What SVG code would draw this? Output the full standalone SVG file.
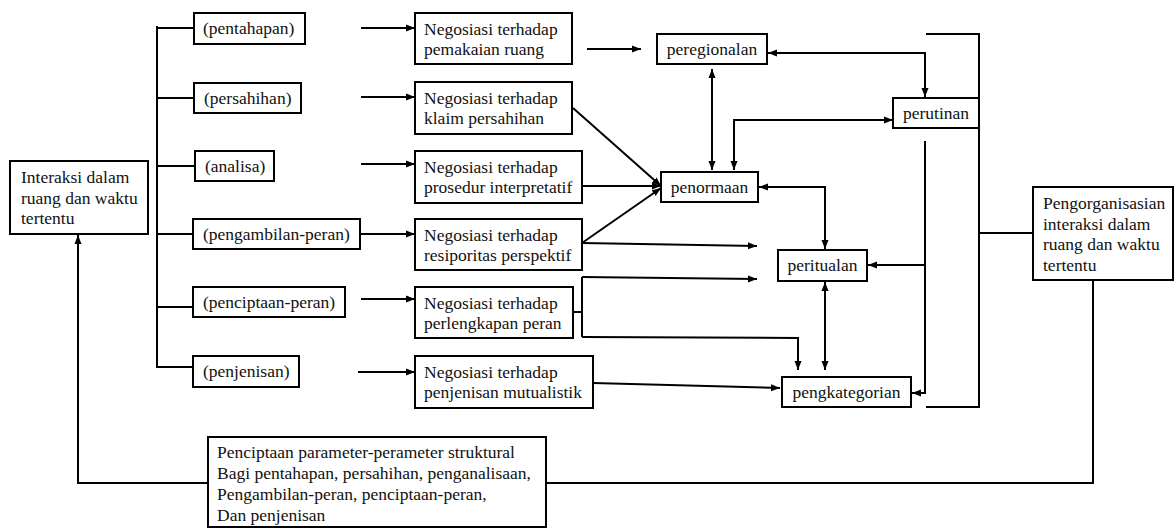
<svg xmlns="http://www.w3.org/2000/svg" width="1175" height="529" viewBox="0 0 1175 529">
  <style>
    .box { fill: #fff; stroke: #000; stroke-width: 2; }
    .lbl { font-family: "Liberation Serif", "Times New Roman", serif; font-size: 17.5px; fill: #111; }
    .mid { text-anchor: middle; }
    .wire { fill: none; stroke: #000; stroke-width: 2; }
    .arr { marker-end: url(#head); }
    .arr2 { marker-start: url(#tail); marker-end: url(#head); }
  </style>
  <defs>
    <marker id="head" markerUnits="userSpaceOnUse" markerWidth="10" markerHeight="8" refX="9" refY="4" orient="auto">
      <path d="M0,0.5 L9,4 L0,7.5 z" fill="#000"/>
    </marker>
    <marker id="tail" markerUnits="userSpaceOnUse" markerWidth="10" markerHeight="8" refX="0" refY="4" orient="auto">
      <path d="M9,0.5 L0,4 L9,7.5 z" fill="#000"/>
    </marker>
  </defs>
  <rect width="1175" height="529" fill="#fff"/>

  <g id="connectors">
    <!-- spine with branches to the six phases -->
    <path class="wire" d="M157,26 V368 M157,28 H194 M157,98 H194 M157,166 H195 M157,234 H193 M157,307 H193 M157,367 H193"/>
    <!-- phases to negotiation boxes -->
    <path class="wire arr" d="M361,28 H415"/>
    <path class="wire arr" d="M361,97 H415"/>
    <path class="wire arr" d="M361,164 H415"/>
    <path class="wire arr" d="M360,234 H415"/>
    <path class="wire arr" d="M361,299 H415"/>
    <path class="wire arr" d="M358,372 H415"/>
    <!-- negotiations to outcomes -->
    <path class="wire arr" d="M587,49 H641"/>
    <path class="wire arr" d="M573,108 L661,186"/>
    <path class="wire arr" d="M582,186 H661"/>
    <path class="wire arr" d="M582,243 L661,188"/>
    <path class="wire arr" d="M582,243 L757,246"/>
    <path class="wire" d="M573,312 H582 M582,277 V337"/>
    <path class="wire arr" d="M582,277 L757,279"/>
    <path class="wire arr" d="M582,337 L798,338 V370"/>
    <path class="wire arr" d="M593,383 L780,388"/>
    <!-- links among outcomes -->
    <path class="wire arr2" d="M712,69 V170"/>
    <path class="wire arr2" d="M893,120 H734 V170"/>
    <path class="wire arr2" d="M768,53 H925 V97"/>
    <path class="wire arr2" d="M759,187 H825 V249"/>
    <path class="wire arr2" d="M825,282 V370"/>
    <path class="wire arr" d="M925,141 V393 H912"/>
    <path class="wire arr" d="M925,265 H868"/>
    <!-- outer bracket to the organising box -->
    <path class="wire" d="M926,34 H979 V407 H926 M979,233 H1033"/>
    <!-- feedback loop through the structural parameters -->
    <path class="wire" d="M1093,280 V483 H546"/>
    <path class="wire arr" d="M208,483 H78 V235"/>
  </g>

  <g id="interaksi">
    <rect class="box" x="10" y="161" width="138" height="73"/>
    <text class="lbl" x="21" y="183">Interaksi dalam</text>
    <text class="lbl" x="21" y="204">ruang dan waktu</text>
    <text class="lbl" x="21" y="224">tertentu</text>
  </g>

  <g id="pentahapan">
    <rect class="box" x="194" y="13" width="111" height="31"/>
    <text class="lbl" x="203" y="34">(pentahapan)</text>
  </g>
  <g id="persahihan">
    <rect class="box" x="194" y="83" width="107" height="30"/>
    <text class="lbl" x="204" y="104">(persahihan)</text>
  </g>
  <g id="analisa">
    <rect class="box" x="195" y="151" width="79" height="30"/>
    <text class="lbl" x="205" y="172">(analisa)</text>
  </g>
  <g id="pengambilan-peran">
    <rect class="box" x="193" y="219" width="167" height="30"/>
    <text class="lbl" x="203" y="240">(pengambilan-peran)</text>
  </g>
  <g id="penciptaan-peran">
    <rect class="box" x="193" y="287" width="152" height="30"/>
    <text class="lbl" x="203" y="308">(penciptaan-peran)</text>
  </g>
  <g id="penjenisan">
    <rect class="box" x="193" y="356" width="106" height="31"/>
    <text class="lbl" x="203" y="377">(penjenisan)</text>
  </g>

  <g id="neg-ruang">
    <rect class="box" x="415" y="13" width="157" height="51"/>
    <text class="lbl" x="424" y="35">Negosiasi terhadap</text>
    <text class="lbl" x="424" y="55">pemakaian ruang</text>
  </g>
  <g id="neg-klaim">
    <rect class="box" x="415" y="82" width="157" height="52"/>
    <text class="lbl" x="424" y="104">Negosiasi terhadap</text>
    <text class="lbl" x="424" y="124">klaim persahihan</text>
  </g>
  <g id="neg-prosedur">
    <rect class="box" x="415" y="151" width="167" height="52"/>
    <text class="lbl" x="424" y="173">Negosiasi terhadap</text>
    <text class="lbl" x="424" y="193">prosedur interpretatif</text>
  </g>
  <g id="neg-resiporitas">
    <rect class="box" x="415" y="219" width="167" height="51"/>
    <text class="lbl" x="424" y="241">Negosiasi terhadap</text>
    <text class="lbl" x="424" y="261">resiporitas perspektif</text>
  </g>
  <g id="neg-perlengkapan">
    <rect class="box" x="415" y="287" width="158" height="51"/>
    <text class="lbl" x="424" y="309">Negosiasi terhadap</text>
    <text class="lbl" x="424" y="329">perlengkapan peran</text>
  </g>
  <g id="neg-penjenisan">
    <rect class="box" x="415" y="356" width="178" height="52"/>
    <text class="lbl" x="424" y="378">Negosiasi terhadap</text>
    <text class="lbl" x="424" y="398">penjenisan mutualistik</text>
  </g>

  <g id="peregionalan">
    <rect class="box" x="657" y="34" width="110" height="30"/>
    <text class="lbl mid" x="712" y="55">peregionalan</text>
  </g>
  <g id="penormaan">
    <rect class="box" x="661" y="172" width="97" height="30"/>
    <text class="lbl mid" x="709.5" y="193">penormaan</text>
  </g>
  <g id="perutinan">
    <rect class="box" x="893" y="98" width="86" height="30"/>
    <text class="lbl mid" x="936" y="119">perutinan</text>
  </g>
  <g id="peritualan">
    <rect class="box" x="778" y="250" width="89" height="31"/>
    <text class="lbl mid" x="822.5" y="271">peritualan</text>
  </g>
  <g id="pengkategorian">
    <rect class="box" x="782" y="377" width="129" height="30"/>
    <text class="lbl mid" x="846.5" y="398">pengkategorian</text>
  </g>

  <g id="pengorganisasian">
    <rect class="box" x="1033" y="187" width="140" height="93"/>
    <text class="lbl" x="1043" y="209">Pengorganisasian</text>
    <text class="lbl" x="1043" y="229.5">interaksi dalam</text>
    <text class="lbl" x="1043" y="250">ruang dan waktu</text>
    <text class="lbl" x="1043" y="270.5">tertentu</text>
  </g>

  <g id="parameter">
    <rect class="box" x="208" y="437" width="338" height="90"/>
    <text class="lbl" x="217" y="458">Penciptaan parameter-perameter struktural</text>
    <text class="lbl" x="217" y="479">Bagi pentahapan, persahihan, penganalisaan,</text>
    <text class="lbl" x="217" y="500">Pengambilan-peran, penciptaan-peran,</text>
    <text class="lbl" x="217" y="521">Dan penjenisan</text>
  </g>
</svg>
